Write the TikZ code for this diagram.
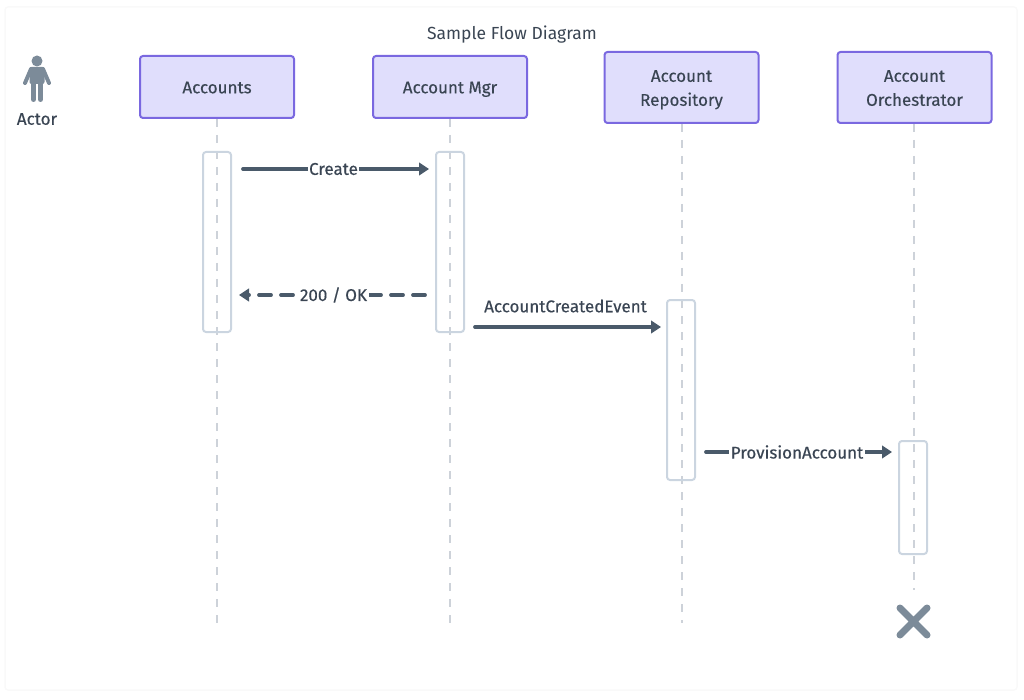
\documentclass[tikz,border=0pt]{standalone}
\usepackage{fontspec}
\setmainfont{Fira Sans}
\newfontfamily\boldishfont{Fira Sans}[FakeBold=0.35]
\usetikzlibrary{arrows.meta}

\definecolor{boxfill}{HTML}{E0DEFC}
\definecolor{boxline}{HTML}{7A68E0}
\definecolor{barline}{HTML}{CBD5E0}
\definecolor{lifeline}{HTML}{CDD2D9}
\definecolor{msgline}{HTML}{4A5A6A}
\definecolor{textcol}{HTML}{3A4553}
\definecolor{actorcol}{HTML}{7C8B99}

\newcommand{\partystrut}{\rule[-5.7pt]{0pt}{24pt}}

\tikzset{
	party/.style={draw=boxline, fill=boxfill, line width=2pt, rounded corners=3pt, minimum width=154pt, align=center, font=\boldishfont\fontsize{17}{24}\selectfont, text=textcol},
	bar/.style={draw=barline, line width=2pt, rounded corners=3pt, minimum width=28pt},
	life/.style={draw=lifeline, line width=2pt, dash pattern=on 8pt off 8pt},
	msg/.style={draw=msgline, line width=3.8pt, line cap=round, -{Triangle[length=10pt,width=12.5pt]}},
	msgfont/.style={font=\boldishfont\fontsize{17}{20}\selectfont, text=textcol},
	msgtext/.style={msgfont, fill=white, inner sep=1.5pt},
}

\begin{document}
\begin{tikzpicture}[x=1pt, y=-1pt]
	\useasboundingbox (0,0) rectangle (1024,700);
	\draw[black!2.5, line width=1.5pt, rounded corners=3pt] (5,7) rectangle (1017,690);

	\node[font=\fontsize{17.5}{20}\selectfont, text=textcol] (title) at (512,35) {Sample Flow Diagram};

	% parties
	\node[party, minimum height=62pt] (accounts) at (217,87) {Accounts\partystrut};
	\node[party, minimum height=62pt] (mgr) at (450,87) {Account Mgr\partystrut};
	\node[party, minimum height=71pt] (repo) at (681.5,87.5) {Account\partystrut\\Repository\partystrut};
	\node[party, minimum height=71pt] (orch) at (914.5,87.5) {Account\partystrut\\Orchestrator\partystrut};

	% ends of the lifelines
	\coordinate (accountsend) at (217,623);
	\coordinate (mgrend) at (450,623);
	\coordinate (repoend) at (682,623);
	\coordinate (orchend) at (914,590);

	\draw[life] (accounts.south) -- (accountsend);
	\draw[life] (mgr.south) -- (mgrend);
	\draw[life] (repo.south -| repoend) -- (repoend);
	\draw[life] (orch.south -| orchend) -- (orchend);

	% activations
	\node[bar, minimum height=180pt] (baraccounts) at (217,242) {};
	\node[bar, minimum height=180pt] (barmgr) at (450,242) {};
	\node[bar, minimum height=180pt] (barrepo) at (681,390) {};
	\node[bar, minimum height=113pt] (barorch) at (913,497.5) {};

	% messages
	\draw[msg, shorten <=11pt, shorten >=6pt] ([yshift=-18pt]baraccounts.north east) -- node[msgtext] (create) {Create} ([yshift=-18pt]barmgr.north west);
	\draw[msg, dash pattern=on 12pt off 10pt, shorten <=10pt, shorten >=7pt] ([yshift=-144pt]barmgr.north west) -- node[msgtext] (okay) {200 / OK} ([yshift=-144pt]baraccounts.north east);
	\draw[msg, shorten <=10pt, shorten >=5pt] ([yshift=-176pt]barmgr.north east) -- node[msgfont, yshift=21pt] (created) {AccountCreatedEvent} ([yshift=-28pt]barrepo.north west);
	\draw[msg, shorten <=10pt, shorten >=6pt] ([yshift=-153pt]barrepo.north east) -- node[msgtext] (provision) {ProvisionAccount} ([yshift=-12pt]barorch.north west);

	% actor
	\fill[actorcol] (37,61) circle (5.5);
	\fill[actorcol, rounded corners=2pt] (29.5,67) rectangle (44.5,84);
	\draw[actorcol, line width=4pt, line cap=round] (31,69) -- (25,83) (43,69) -- (49,83);
	\draw[actorcol, line width=5pt, line cap=round] (33.5,82) -- (33.5,99.5) (40.5,82) -- (40.5,99.5);
	\node[msgfont] (actor) at (37,119) {Actor};

	% end mark
	\draw[actorcol, line width=7pt, line cap=round] (900,608) -- (927,635) (927,608) -- (900,635);
\end{tikzpicture}
\end{document}
